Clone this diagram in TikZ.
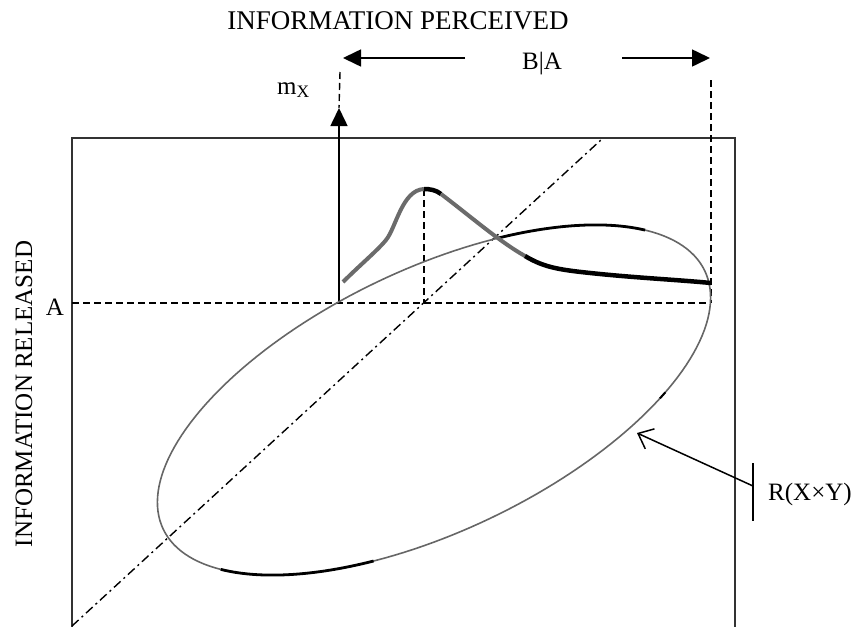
\documentclass[tikz,border=0pt]{standalone}
\usepackage{fontspec}
\setmainfont{Liberation Serif}
\usetikzlibrary{arrows.meta}
\begin{document}
\begin{tikzpicture}[x=1pt,y=-1pt,
  lbl/.style={inner sep=0pt, font=\fontsize{25}{30}\selectfont},
  frame/.style={line width=1.8pt, draw=black!80},
  guide/.style={line width=1.4pt, dash pattern=on 7pt off 4pt},
  diagline/.style={line width=1.4pt, dash pattern=on 9pt off 4pt on 2pt off 4pt},
  bigtip/.style={-{Triangle[length=18pt,width=17pt]}, line width=1.6pt},
  ringgray/.style={line width=1.6pt, draw=black!60},
  ringdark/.style={line width=2.8pt, draw=black},
  curvegray/.style={line width=4pt, draw=black!58},
  curvedark/.style={line width=4.5pt, draw=black},
]
\useasboundingbox (0,0) rectangle (855,627);

% key points
\coordinate (O) at (339,303);
\coordinate (Aend) at (711,303);
\coordinate (Aleft) at (72,303);
\coordinate (peak) at (424,189);
\coordinate (peakfoot) at (424,303);
\coordinate (ytip) at (339,108);

% frame, open at the bottom
\draw[frame] (72,627) -- (72,138) -- (735,138) -- (735,627);

% labels
\node[lbl, anchor=base, font=\fontsize{27}{32}\selectfont] (perc) at (398,29) {INFORMATION PERCEIVED};
\node[lbl, anchor=base] (ba) at (542,69) {B|A};
\node[lbl, anchor=base, rotate=90] (rel) at (32,394) {INFORMATION RELEASED};
\node[lbl, anchor=base] (alab) at (55,315) {A};
\node[lbl, anchor=base west] (mx) at (277,94) {m\textsubscript{X}};
\node[lbl, anchor=base west] (rxy) at (768,500) {R(X×Y)};

% top range arrows
\coordinate (la) at (465,58);
\coordinate (lt) at (343,58);
\coordinate (ra) at (622,58);
\coordinate (rt) at (710,58);
\draw[bigtip] (la) -- (lt);
\draw[bigtip] (ra) -- (rt);

% guide lines
\draw[guide] (340,72) -- (ytip);
\draw[guide] (711,80) -- (Aend);
\draw[guide] (Aleft) -- (Aend);
\draw[guide] (peak) -- (peakfoot);

% diagonal
\draw[diagline] (72,626) -- (602,139);

% vertical axis
\draw[bigtip] (O) -- (ytip);

% ellipse R(X x Y)
\draw[ringgray] plot[domain=0:360, samples=181, variable=\t] ({434+270.78*cos(\t)+56.40*sin(\t)}, {400-129.15*cos(\t)+118.24*sin(\t)}) -- cycle;
\draw[ringdark] plot[domain=-65:-28.5, samples=30, variable=\t] ({434+270.78*cos(\t)+56.40*sin(\t)}, {400-129.15*cos(\t)+118.24*sin(\t)});
\draw[ringdark] plot[domain=114.4:152.2, samples=30, variable=\t] ({434+270.78*cos(\t)+56.40*sin(\t)}, {400-129.15*cos(\t)+118.24*sin(\t)});
\draw[line width=2pt] plot[domain=45:47, samples=4, variable=\t] ({434+270.78*cos(\t)+56.40*sin(\t)}, {400-129.15*cos(\t)+118.24*sin(\t)});

% marginal curve m_X
\coordinate (c0) at (343,282);
\coordinate (c1) at (386,240);
\coordinate (c2) at (441,194);
\coordinate (c3) at (525,256);
\coordinate (c4) at (600,274);
\draw[curvegray] (c0) .. controls (360,265) and (378,250) .. (c1)
  .. controls (396,228) and (402,190) .. (peak);
\draw[curvedark] (peak) .. controls (430,189) and (436,190) .. (c2);
\draw[curvegray] (c2) .. controls (470,216) and (500,242) .. (c3);
\draw[curvedark] (c3) .. controls (545,268) and (560,270) .. (c4)
  .. controls (640,278) and (680,280) .. (Aend |- 0,283);

% pointer to the ellipse
\coordinate (tk1) at (753,463);
\coordinate (tk2) at (753,521);
\coordinate (pstart) at (753,486);
\coordinate (ptip) at (637,433);
\draw[line width=1.5pt] (tk1) -- (tk2);
\draw[line width=1.5pt, -{Straight Barb[length=13pt,width=22pt]}] (pstart) -- (ptip);
\end{tikzpicture}
\end{document}
